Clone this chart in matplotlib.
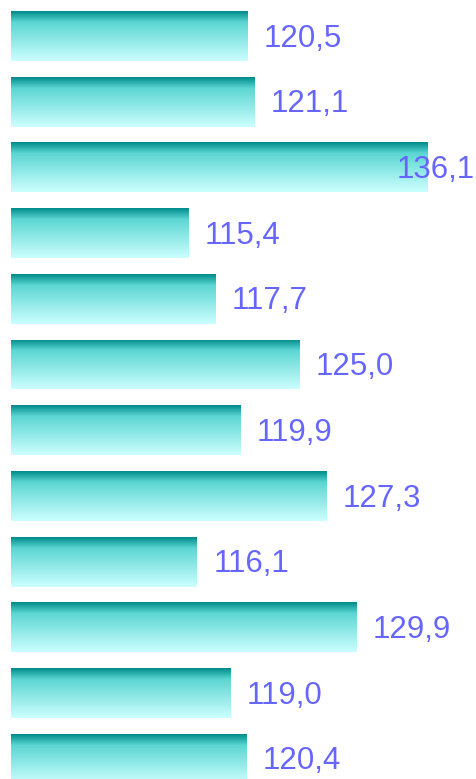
import numpy as np
import matplotlib; matplotlib.use("Agg")
import matplotlib.pyplot as plt
from matplotlib.colors import LinearSegmentedColormap

values=[120.5,121.1,136.1,115.4,117.7,125.0,119.9,127.3,116.1,129.9,119.0,120.4]
labels=["120,5","121,1","136,1","115,4","117,7","125,0","119,9","127,3","116,1","129,9","119,0","120,4"]
XMIN,XMAX=100,140

plt.rcParams["font.family"]=["Liberation Sans","DejaVu Sans"]
fig=plt.figure(figsize=(4.77,7.79),dpi=100)
ax=fig.add_axes([11/477,0,462/477,1])
ax.axis("off")

cmap=LinearSegmentedColormap.from_list("teal",[(0,"#008c8c"),(0.22,"#5cd6d2"),(1,"#ccffff")])
grad=np.linspace(0,1,100).reshape(-1,1)
y=np.arange(len(values))
bars=ax.barh(y,[v-XMIN for v in values],left=XMIN,height=0.76,color="none",edgecolor="none")
for b in bars:
    x0,y0=b.get_x(),b.get_y()
    im=ax.imshow(grad,cmap=cmap,aspect="auto",extent=(x0,x0+b.get_width(),y0+b.get_height(),y0),origin="upper")
    im.set_clip_path(b)
ax.set_xlim(XMIN,XMAX); ax.set_ylim(11.309,-0.548)

for i,(v,s) in enumerate(zip(values,labels)):
    if v+1.4+6.7>XMAX:
        ax.text(XMAX+0.15,i+0.04,s,ha="right",va="center",fontsize=22.5,color="#6666ff")
    else:
        ax.text(v+1.4,i+0.04,s,ha="left",va="center",fontsize=22.5,color="#6666ff")
fig.savefig("out.png",dpi=100)
